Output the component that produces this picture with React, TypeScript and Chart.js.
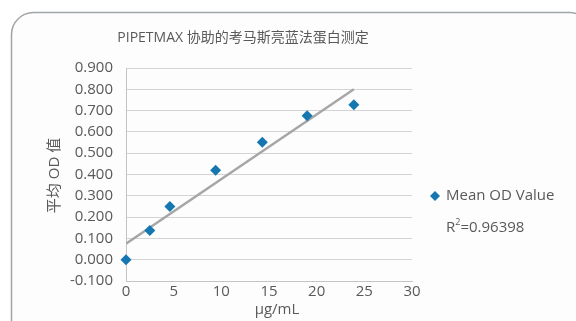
import React, { useEffect, useRef } from "react";
import { Chart, registerables } from "chart.js";

Chart.register(...registerables);

const TITLE = "PIPETMAX 协助的考马斯亮蓝法蛋白测定";
const X_TITLE = "μg/mL";
const Y_TITLE = "平均 OD 值";
const SERIES_NAME = "Mean OD Value";
const R2_TEXT = "0.96398";

const concentrations = [0, 2.5, 4.6, 9.4, 14.3, 19.0, 23.9];
const meanOD = [0, 0.137, 0.25, 0.42, 0.551, 0.676, 0.727];

const FONT = "'Open Sans', 'Noto Sans CJK SC', sans-serif";
const TEXT_COLOR = "#595959";
const POINT_COLOR = "#1477b0";

function regression(xs: number[], ys: number[]) {
  const n = xs.length;
  const mx = xs.reduce((a, b) => a + b, 0) / n;
  const my = ys.reduce((a, b) => a + b, 0) / n;
  let sxy = 0;
  let sxx = 0;
  for (let i = 0; i < n; i++) {
    sxy += (xs[i] - mx) * (ys[i] - my);
    sxx += (xs[i] - mx) * (xs[i] - mx);
  }
  const slope = sxy / sxx;
  return { slope, intercept: my - slope * mx };
}

const decorPlugin = {
  id: "decor",
  beforeDraw(chart: any) {
    const ctx = chart.ctx;
    ctx.save();
    ctx.fillStyle = "#ffffff";
    ctx.fillRect(0, 0, chart.width, chart.height);
    const x = 11.5, y = 12.5, w = 580, h = 330, r = 22;
    ctx.beginPath();
    ctx.moveTo(x + r, y);
    ctx.lineTo(x + w - r, y);
    ctx.arcTo(x + w, y, x + w, y + r, r);
    ctx.lineTo(x + w, y + h - r);
    ctx.arcTo(x + w, y + h, x + w - r, y + h, r);
    ctx.lineTo(x + r, y + h);
    ctx.arcTo(x, y + h, x, y + h - r, r);
    ctx.lineTo(x, y + r);
    ctx.arcTo(x, y, x + r, y, r);
    ctx.closePath();
    ctx.fillStyle = "#fdfdfd";
    ctx.fill();
    ctx.strokeStyle = "#a0a5a8";
    ctx.lineWidth = 1.5;
    ctx.stroke();
    ctx.restore();
  },
  afterDraw(chart: any) {
    const ctx = chart.ctx;
    const area = chart.chartArea;
    ctx.save();
    ctx.fillStyle = TEXT_COLOR;
    ctx.font = `14px ${FONT}`;
    ctx.textAlign = "center";
    ctx.textBaseline = "middle";
    ctx.fillText(TITLE, 243, 38);
    ctx.font = `15px ${FONT}`;
    ctx.fillText(X_TITLE, 277, 310);
    ctx.save();
    ctx.translate(55, (area.top + area.bottom) / 2 + 1);
    ctx.rotate(-Math.PI / 2);
    ctx.fillText(Y_TITLE, 0, 0);
    ctx.restore();
    const lx = 435, ly = 196, rr = 5;
    ctx.beginPath();
    ctx.moveTo(lx - rr, ly);
    ctx.lineTo(lx, ly - rr);
    ctx.lineTo(lx + rr, ly);
    ctx.lineTo(lx, ly + rr);
    ctx.closePath();
    ctx.fillStyle = POINT_COLOR;
    ctx.fill();
    ctx.fillStyle = TEXT_COLOR;
    ctx.textAlign = "left";
    ctx.font = `15px ${FONT}`;
    ctx.fillText(SERIES_NAME, 446, ly);
    const ry = 228;
    ctx.fillText("R", 446, ry);
    const rw = ctx.measureText("R").width;
    ctx.font = `9px ${FONT}`;
    ctx.fillText("2", 446 + rw, ry - 6);
    const sw = ctx.measureText("2").width;
    ctx.font = `15px ${FONT}`;
    ctx.fillText("=" + R2_TEXT, 446 + rw + sw, ry);
    ctx.restore();
  },
};

export default function App() {
  const canvasRef = useRef<HTMLCanvasElement | null>(null);

  useEffect(() => {
    const canvas = canvasRef.current;
    if (!canvas) return;
    const fit = regression(concentrations, meanOD);
    const xMax = Math.max(...concentrations);
    const trend = [
      { x: 0, y: fit.intercept },
      { x: xMax, y: fit.intercept + fit.slope * xMax },
    ];
    const points = concentrations.map((c, i) => ({ x: c, y: meanOD[i] }));

    const chart = new Chart(canvas, {
      type: "scatter",
      data: {
        datasets: [
          {
            label: SERIES_NAME,
            data: points,
            pointStyle: "rectRot",
            pointRadius: 5.5,
            pointBackgroundColor: POINT_COLOR,
            pointBorderColor: POINT_COLOR,
            pointBorderWidth: 0,
            clip: false,
            order: 0,
          },
          {
            label: "Linear",
            data: trend,
            showLine: true,
            borderColor: "#a6a6a6",
            borderWidth: 2.4,
            pointRadius: 0,
            order: 1,
          } as any,
        ],
      },
      options: {
        animation: false,
        responsive: false,
        maintainAspectRatio: false,
        layout: { padding: { left: 0, right: 164, top: 68, bottom: 0 } },
        plugins: {
          legend: { display: false },
          title: { display: false },
          tooltip: { enabled: false },
        },
        scales: {
          x: {
            type: "linear",
            min: 0,
            max: 30,
            ticks: {
              stepSize: 5,
              color: TEXT_COLOR,
              font: { family: FONT, size: 15 },
              padding: 2,
              maxRotation: 0,
            },
            grid: { display: false, drawTicks: false },
            border: { display: true, color: "#c4c4c4", width: 1 },
            afterFit: (scale: any) => {
              scale.height = 40;
            },
          },
          y: {
            type: "linear",
            min: -0.1,
            max: 0.9,
            ticks: {
              stepSize: 0.1,
              color: TEXT_COLOR,
              font: { family: FONT, size: 15 },
              padding: 13,
              callback: (v: any) => Number(v).toFixed(3),
            },
            grid: { color: "#d4d4d4", lineWidth: 1, drawTicks: false },
            border: { display: true, color: "#c4c4c4", width: 1 },
            afterFit: (scale: any) => {
              scale.width = 126;
            },
          },
        },
      } as any,
      plugins: [decorPlugin],
    });
    return () => chart.destroy();
  }, []);

  return (
    <div style={{ position: "fixed", left: 0, top: 0, width: 576, height: 321 }}>
      <canvas ref={canvasRef} width={576} height={321} style={{ width: 576, height: 321, display: "block" }} />
    </div>
  );
}
